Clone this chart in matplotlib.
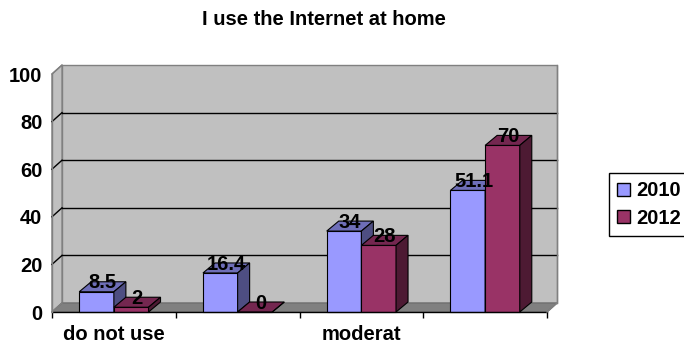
import matplotlib.pyplot as plt
from matplotlib.patches import Polygon, Patch

plt.rcParams['font.family'] = ['Liberation Sans', 'DejaVu Sans']
plt.rcParams['font.weight'] = 'bold'

categories = ["do not use", "", "moderat", ""]
years = ["2010", "2012"]
values_2010 = [8.5, 16.4, 34, 51.1]
values_2012 = [2, 0, 28, 70]
y_ticks = [0, 20, 40, 60, 80, 100]

front_colors = ["#9999FF", "#993366"]
top_colors = ["#6E6EB8", "#742750"]
side_colors = ["#4E4E82", "#4D1A33"]

# depth offsets (data units) for the fake 3d look
fdx, fdy = 0.081, 3.78   # walls / floor
bdx, bdy = 0.097, 4.2    # bars
bar_w = 0.28
fs = 14.5

fig = plt.figure(figsize=(6.84, 3.46), dpi=100)
ax = fig.add_axes([52/684, 34/346, 495/684, 238/346])
ax.set_xlim(0, 4)
ax.set_ylim(0, 100)
n = len(categories)

def poly(pts, fc, ec, lw=0.8, z=1):
    ax.add_patch(Polygon(pts, closed=True, facecolor=fc, edgecolor=ec,
                         linewidth=lw, clip_on=False, zorder=z))

# walls and floor
poly([(fdx, fdy), (n + fdx, fdy), (n + fdx, 100 + fdy), (fdx, 100 + fdy)], "#C0C0C0", "#808080", 1)
poly([(0, 0), (fdx, fdy), (fdx, 100 + fdy), (0, 100)], "#C0C0C0", "#808080", 1)
poly([(0, 0), (n, 0), (n + fdx, fdy), (fdx, fdy)], "#808080", "#707070", 1)
for v in y_ticks[1:-1]:
    ax.plot([fdx, n + fdx], [v + fdy, v + fdy], color="black", lw=1, clip_on=False, zorder=2)
for v in y_ticks:
    ax.plot([0, fdx], [v, v + fdy], color="black" if 0 < v < 100 else "#808080",
            lw=1, clip_on=False, zorder=2)

# bars
def bar3d(x0, h, k):
    poly([(x0, 0), (x0 + bar_w, 0), (x0 + bar_w, h), (x0, h)], front_colors[k], "black", 0.8, 3)
    poly([(x0, h), (x0 + bar_w, h), (x0 + bar_w + bdx, h + bdy), (x0 + bdx, h + bdy)],
         top_colors[k], "black", 0.8, 3)
    poly([(x0 + bar_w, 0), (x0 + bar_w + bdx, bdy), (x0 + bar_w + bdx, h + bdy), (x0 + bar_w, h)],
         side_colors[k], "black", 0.8, 3)

for i in range(n):
    c = i + 0.5
    for k, vals in enumerate([values_2010, values_2012]):
        x0 = c - bar_w + k * bar_w
        bar3d(x0, vals[i], k)
    for k, vals in enumerate([values_2010, values_2012]):
        x0 = c - bar_w + k * bar_w
        ax.text(x0 + bar_w / 2 + bdx / 2, vals[i] + bdy - 0.5, f"{vals[i]:g}", ha="center", va="center",
                fontsize=fs, fontweight="bold", zorder=5, clip_on=False)

# axis lines
ax.plot([0, n], [0, 0], color="black", lw=1, clip_on=False, zorder=4)
ax.plot([0, 0], [0, 100], color="#808080", lw=1, clip_on=False, zorder=4)
ax.plot([n, n + fdx], [0, fdy], color="#808080", lw=1, clip_on=False, zorder=4)
ax.plot([n + fdx, n + fdx], [fdy, 100 + fdy], color="#808080", lw=1, clip_on=False, zorder=4)

for s in ax.spines.values():
    s.set_visible(False)
ax.patch.set_visible(False)
ax.set_yticks(y_ticks)
ax.set_yticklabels([str(v) for v in y_ticks], fontsize=fs, fontweight="bold")
ax.tick_params(axis="y", length=0, pad=7)
ax.set_xticks([i + 0.5 for i in range(n)])
ax.set_xticklabels(categories, fontsize=fs, fontweight="bold")
ax.set_xticks(range(n + 1), minor=True)
ax.tick_params(axis="x", which="major", length=0, pad=9)
ax.tick_params(axis="x", which="minor", length=4, width=1, color="black")

fig.text(323.5/684, 1 - 25/346, "I use the Internet at home", ha="center", va="baseline",
         fontsize=fs, fontweight="bold")

handles = [Patch(facecolor=front_colors[k], edgecolor="black", linewidth=1) for k in range(2)]
leg = fig.legend(handles, years, loc="center left", bbox_to_anchor=(609/684, 1 - 204.5/346),
                 fontsize=fs, frameon=True, fancybox=False, framealpha=1, edgecolor="black",
                 handlelength=0.65, handleheight=0.6, handletextpad=0.3, labelspacing=0.4,
                 borderpad=0.4, borderaxespad=0)
leg.get_frame().set_linewidth(1)
for t in leg.get_texts():
    t.set_fontweight("bold")

fig.savefig("out.png", dpi=100)
